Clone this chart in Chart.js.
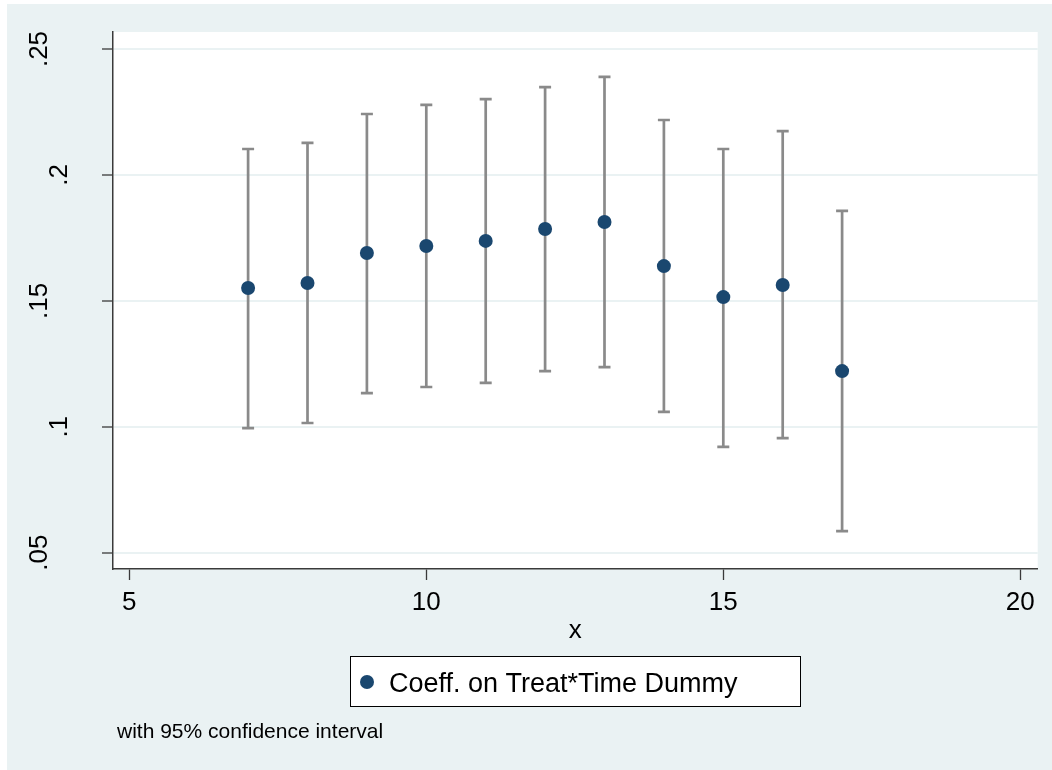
<!DOCTYPE html>
<html>
<head>
<meta charset="utf-8">
<script src="https://cdn.jsdelivr.net/npm/chart.js@4.4.1/dist/chart.umd.min.js"></script>
<style>
  html, body { margin: 0; padding: 0; background: #ffffff; }
  #c { display: block; }
</style>
</head>
<body>
<canvas id="c" width="1052" height="770"></canvas>
<script>
// ---- data ----
const xValues   = [7, 8, 9, 10, 11, 12, 13, 14, 15, 16, 17];
const coef      = [0.1551, 0.1571, 0.1690, 0.1718, 0.1738, 0.1785, 0.1813, 0.1638, 0.1515, 0.1563, 0.1221];
const ciUpper   = [0.2103, 0.2127, 0.2242, 0.2278, 0.2301, 0.2349, 0.2389, 0.2218, 0.2103, 0.2174, 0.1857];
const ciLower   = [0.0995, 0.1015, 0.1134, 0.1158, 0.1174, 0.1221, 0.1237, 0.1059, 0.0920, 0.0955, 0.0586];
const xTicks    = [5, 10, 15, 20];
const yTicks    = [0.05, 0.10, 0.15, 0.20, 0.25];
const yTickLabels = ['.05', '.1', '.15', '.2', '.25'];
const seriesLabel = 'Coeff. on Treat*Time Dummy';
const xTitle = 'x';
const note = 'with 95% confidence interval';

const FONT = '"Liberation Sans", Arial, Helvetica, sans-serif';
const BG = '#eaf2f3';
const NAVY = '#1a476f';
const CI_COLOR = '#8a8a8a';
const AXIS = '#3a3a3a';

const bgPlugin = {
  id: 'bg',
  beforeDraw(chart) {
    const ctx = chart.ctx;
    const a = chart.chartArea;
    ctx.save();
    ctx.fillStyle = '#ffffff';
    ctx.fillRect(0, 0, chart.width, chart.height);
    ctx.fillStyle = BG;
    ctx.fillRect(7, 4, chart.width - 7, chart.height - 4);
    ctx.fillStyle = '#ffffff';
    ctx.fillRect(a.left, a.top, a.right - a.left, a.bottom - a.top);
    ctx.restore();
  }
};

const ciPlugin = {
  id: 'ci',
  beforeDatasetsDraw(chart) {
    const ctx = chart.ctx;
    const xs = chart.scales.x, ys = chart.scales.y;
    ctx.save();
    ctx.strokeStyle = CI_COLOR;
    ctx.lineWidth = 2.7;
    ctx.lineCap = 'butt';
    const half = 6;
    for (let i = 0; i < xValues.length; i++) {
      const px = xs.getPixelForValue(xValues[i]);
      const pu = ys.getPixelForValue(ciUpper[i]);
      const pl = ys.getPixelForValue(ciLower[i]);
      ctx.beginPath();
      ctx.moveTo(px, pu); ctx.lineTo(px, pl);
      ctx.moveTo(px - half, pu); ctx.lineTo(px + half, pu);
      ctx.moveTo(px - half, pl); ctx.lineTo(px + half, pl);
      ctx.stroke();
    }
    ctx.restore();
  }
};

const textPlugin = {
  id: 'texts',
  afterDraw(chart) {
    const ctx = chart.ctx;
    const xs = chart.scales.x, ys = chart.scales.y;
    const a = chart.chartArea;
    ctx.save();
    ctx.fillStyle = '#000000';
    // x tick labels
    ctx.font = '26px ' + FONT;
    ctx.textAlign = 'center';
    ctx.textBaseline = 'alphabetic';
    xTicks.forEach(v => {
      ctx.fillText(String(v), xs.getPixelForValue(v), 610);
    });
    // x title
    ctx.fillText(xTitle, (a.left + a.right) / 2, 638);
    // y tick labels (rotated)
    yTicks.forEach((v, i) => {
      const lab = yTickLabels[i];
      const py = ys.getPixelForValue(v);
      const bx = lab.length >= 3 ? 47 : 67;
      ctx.save();
      ctx.translate(bx, py);
      ctx.rotate(-Math.PI / 2);
      ctx.textAlign = 'center';
      ctx.fillText(lab, 0, 0);
      ctx.restore();
    });
    // legend box
    ctx.fillStyle = '#ffffff';
    ctx.fillRect(350, 656, 450, 50);
    ctx.strokeStyle = '#000000';
    ctx.lineWidth = 1;
    ctx.strokeRect(350.5, 656.5, 450, 50);
    ctx.fillStyle = NAVY;
    ctx.beginPath();
    ctx.arc(367, 682, 7, 0, Math.PI * 2);
    ctx.fill();
    ctx.fillStyle = '#000000';
    ctx.font = '27px ' + FONT;
    ctx.textAlign = 'left';
    ctx.fillText(chart.data.datasets[0].label, 389, 691.5);
    // note
    ctx.font = '21px ' + FONT;
    ctx.fillText(note, 117, 737.5);
    ctx.restore();
  }
};

new Chart(document.getElementById('c'), {
  type: 'scatter',
  data: {
    datasets: [{
      label: seriesLabel,
      data: xValues.map((x, i) => ({ x: x, y: coef[i] })),
      pointRadius: 7,
      pointHoverRadius: 7,
      pointBackgroundColor: NAVY,
      pointBorderWidth: 0,
      borderColor: NAVY,
      showLine: false
    }]
  },
  options: {
    responsive: false,
    animation: false,
    devicePixelRatio: 1,
    layout: { padding: { left: 0, top: 32, right: 14.3, bottom: 0 } },
    plugins: { legend: { display: false }, tooltip: { enabled: false } },
    scales: {
      x: {
        type: 'linear',
        min: 4.7256,
        max: 20.293,
        afterBuildTicks: s => { s.ticks = xTicks.map(v => ({ value: v })); },
        afterFit: s => { s.height = 201; },
        ticks: { display: false },
        grid: { drawOnChartArea: false, drawTicks: true, tickLength: 11, tickColor: AXIS, tickWidth: 1.3 },
        border: { display: true, color: AXIS, width: 1.5 }
      },
      y: {
        type: 'linear',
        min: 0.04353,
        max: 0.25675,
        afterBuildTicks: s => { s.ticks = yTicks.map(v => ({ value: v })); },
        afterFit: s => { s.width = 113; },
        ticks: { display: false },
        grid: { drawOnChartArea: true, color: BG, lineWidth: 2, drawTicks: true, tickLength: 11, tickColor: AXIS, tickWidth: 1.3 },
        border: { display: true, color: AXIS, width: 1.5 }
      }
    }
  },
  plugins: [bgPlugin, ciPlugin, textPlugin]
});
</script>
</body>
</html>
